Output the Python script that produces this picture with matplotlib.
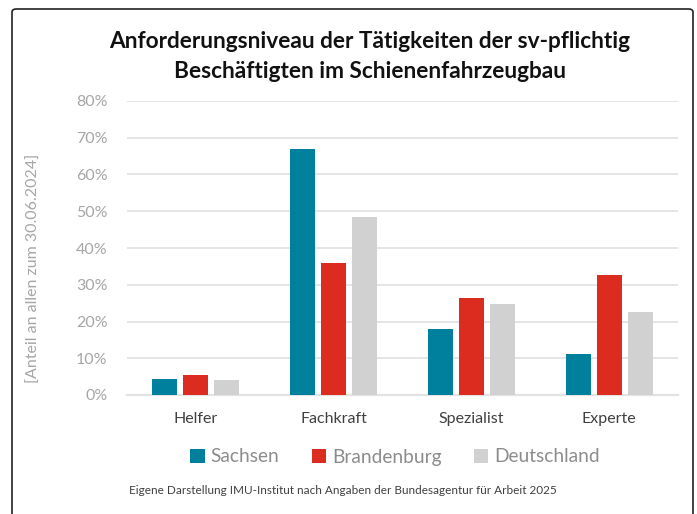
import matplotlib
matplotlib.use("Agg")
import matplotlib.pyplot as plt
import numpy as np
from matplotlib.patches import FancyBboxPatch
from matplotlib.ticker import PercentFormatter

categories = ["Helfer", "Fachkraft", "Spezialist", "Experte"]
series_names = ["Sachsen", "Brandenburg", "Deutschland"]
sachsen = [4.3, 66.9, 18.0, 11.2]
brandenburg = [5.4, 35.9, 26.4, 32.7]
deutschland = [4.2, 48.4, 24.7, 22.6]
colors = ["#00809C", "#DC2C1F", "#D0D1D0"]
yticks = [0, 10, 20, 30, 40, 50, 60, 70, 80]

plt.rcParams['font.family'] = ['Lato', 'DejaVu Sans']

W, H = 697, 514
fig = plt.figure(figsize=(W/100, H/100), dpi=100)

# frame
frame = FancyBboxPatch((12/W, -20/H), (693-12)/W, (H-9+20)/H,
                       boxstyle="round,pad=0,rounding_size=0.006",
                       transform=fig.transFigure, fill=False,
                       edgecolor="#222222", linewidth=1.2)
fig.patches.append(frame)

ax = fig.add_axes([127/W, 1-395/H, (678-127)/W, (395-101)/H])
x = np.arange(len(categories))
width = 0.18
offs = [-0.225, 0, 0.225]
for vals, name, c, o in zip([sachsen, brandenburg, deutschland], series_names, colors, offs):
    ax.bar(x + o, vals, width, color=c, label=name, zorder=3)

ax.set_ylim(0, 80)
ax.set_xlim(-0.5, len(categories) - 0.5)
ax.set_yticks(yticks)
ax.yaxis.set_major_formatter(PercentFormatter(decimals=0))
ax.set_xticks(x)
ax.set_xticklabels(categories, fontsize=11.5, color="#404040")
ax.tick_params(axis='y', labelsize=11.5, labelcolor="#A6A6A6", length=0, pad=14)
ax.tick_params(axis='x', length=0, pad=12.5)
ax.grid(axis='y', color="#E3E3E3", linewidth=1.3, zorder=0)
for s in ["top", "right", "left"]:
    ax.spines[s].set_visible(False)
ax.spines["bottom"].set_color("#E3E3E3")
ax.spines["bottom"].set_linewidth(1.6)
ax.set_ylabel("[Anteil an allen zum 30.06.2024]", fontsize=11.5, color="#A6A6A6")
ax.yaxis.set_label_coords(-(127-41)/551, (395-268)/294)

fig.text(370/W, 1-42/H, "Anforderungsniveau der Tätigkeiten der sv-pflichtig",
         ha="center", va="center", fontsize=16.3, fontweight="bold", color="#111111")
fig.text(370/W, 1-72/H, "Beschäftigten im Schienenfahrzeugbau",
         ha="center", va="center", fontsize=16.3, fontweight="bold", color="#111111")

leg = fig.legend(loc="center", bbox_to_anchor=(395/W, 1-457/H), ncol=3, frameon=False,
                 fontsize=13.8, handlelength=0.75, handleheight=0.75, handletextpad=0.3,
                 columnspacing=1.7)
for t in leg.get_texts():
    t.set_color("#8C8C8C")

fig.text(343/W, 1-491/H, "Eigene Darstellung IMU-Institut nach Angaben der Bundesagentur für Arbeit 2025",
         ha="center", va="center", fontsize=8.5, color="#404040")

fig.savefig("out.png", dpi=100)
